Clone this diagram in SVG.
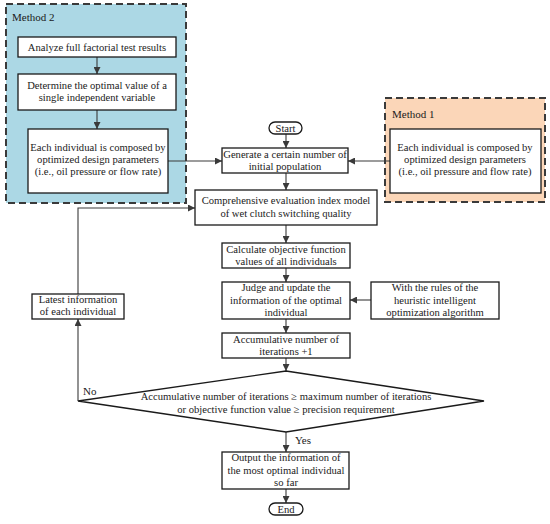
<svg xmlns="http://www.w3.org/2000/svg" width="550" height="524" viewBox="0 0 550 524" font-family="'Liberation Serif', 'Times New Roman', Times, serif">
<defs>
<marker id="ah" viewBox="0 0 10 10" refX="10" refY="5" markerWidth="7" markerHeight="7" markerUnits="userSpaceOnUse" orient="auto">
<path d="M0,0 L10,5 L0,10 z" fill="#3a3a3a"/>
</marker>
<style>
text{font-family:'Liberation Serif','Times New Roman',Times,serif;font-size:10.6px;fill:#1a1a1a;text-anchor:middle}
.lbl{text-anchor:start;font-size:11px}
.box{fill:#fff;stroke:#1a1a1a;stroke-width:1.3}
.grp{stroke:#3a3a3a;stroke-width:2;stroke-dasharray:7,4}
.con{fill:none;stroke:#3a3a3a;stroke-width:1.1;marker-end:url(#ah)}
</style>
</defs>
<rect width="550" height="524" fill="#fff"/>

<g id="method2">
<rect class="grp" x="6" y="4" width="180" height="199" fill="#acd8e5"/>
<text class="lbl" x="12" y="21" font-family="Liberation Serif">Method 2</text>
</g>
<g id="method1">
<rect class="grp" x="385" y="98" width="160" height="104" fill="#fbd6b8"/>
<text class="lbl" x="392" y="118" font-family="Liberation Serif">Method 1</text>
</g>

<g id="connectors">
<line class="con" x1="97" y1="57" x2="97" y2="74"/>
<line class="con" x1="97" y1="110" x2="97" y2="129"/>
<line class="con" x1="168" y1="161" x2="222" y2="161"/>
<line class="con" x1="390" y1="161" x2="348" y2="161"/>
<line class="con" x1="286" y1="134" x2="286" y2="148"/>
<line class="con" x1="286" y1="173" x2="286" y2="190"/>
<line class="con" x1="286" y1="225" x2="286" y2="243"/>
<line class="con" x1="286" y1="268" x2="286" y2="282"/>
<line class="con" x1="371" y1="300" x2="350" y2="300"/>
<line class="con" x1="286" y1="319" x2="286" y2="333"/>
<line class="con" x1="286" y1="358" x2="286" y2="371"/>
<line class="con" x1="78" y1="401" x2="78" y2="319"/>
<polyline class="con" points="78,294 78,208 195,208"/>
<line class="con" x1="286" y1="432" x2="286" y2="452"/>
<line class="con" x1="286" y1="489" x2="286" y2="503"/>
<text class="lbl" x="83" y="395">No</text>
<text class="lbl" x="295" y="444">Yes</text>
</g>

<g id="n_analyze">
<rect class="box" x="18" y="37" width="158" height="20"/>
<text x="97" y="51">Analyze full factorial test results</text>
</g>
<g id="n_determine">
<rect class="box" x="18" y="74" width="158" height="36"/>
<text x="97" y="89">Determine the optimal value of a</text>
<text x="97" y="101">single independent variable</text>
</g>
<g id="n_m2individual">
<rect class="box" x="28" y="129" width="140" height="64"/>
<text x="98" y="151">Each individual is composed by</text>
<text x="98" y="163">optimized design parameters</text>
<text x="98" y="175">(i.e., oil pressure or flow rate)</text>
</g>
<g id="n_m1individual">
<rect class="box" x="390" y="129" width="151" height="64"/>
<text x="465" y="151">Each individual is composed by</text>
<text x="465" y="163">optimized design parameters</text>
<text x="465" y="175">(i.e., oil pressure and flow rate)</text>
</g>
<g id="n_start">
<rect class="box" x="269" y="122" width="33" height="12" rx="6"/>
<text x="285.5" y="131.5">Start</text>
</g>
<g id="n_generate">
<rect class="box" x="222" y="148" width="126" height="25"/>
<text x="285" y="158">Generate a certain number of</text>
<text x="285" y="170">initial population</text>
</g>
<g id="n_comprehensive">
<rect class="box" x="195" y="190" width="182" height="35"/>
<text x="286" y="204">Comprehensive evaluation index model</text>
<text x="286" y="217">of wet clutch switching quality</text>
</g>
<g id="n_calculate">
<rect class="box" x="222" y="243" width="128" height="25"/>
<text x="286" y="253">Calculate objective function</text>
<text x="286" y="265">values of all individuals</text>
</g>
<g id="n_judge">
<rect class="box" x="222" y="282" width="128" height="37"/>
<text x="286" y="291">Judge and update the</text>
<text x="286" y="304">information of the optimal</text>
<text x="286" y="316">individual</text>
</g>
<g id="n_rules">
<rect class="box" x="371" y="282" width="128" height="37"/>
<text x="435" y="291">With the rules of the</text>
<text x="435" y="304">heuristic intelligent</text>
<text x="435" y="316">optimization algorithm</text>
</g>
<g id="n_latest">
<rect class="box" x="32" y="294" width="92" height="25"/>
<text x="78" y="303">Latest information</text>
<text x="78" y="315">of each individual</text>
</g>
<g id="n_accum">
<rect class="box" x="222" y="333" width="128" height="25"/>
<text x="286" y="343">Accumulative number of</text>
<text x="286" y="355">iterations +1</text>
</g>
<g id="n_decision">
<polygon class="box" points="286,371 484,401 286,432 78,401"/>
<text x="286" y="400">Accumulative number of iterations ≥ maximum number of iterations</text>
<text x="286" y="413">or objective function value ≥  precision requirement</text>
</g>
<g id="n_output">
<rect class="box" x="222" y="452" width="127" height="37"/>
<text x="286" y="461">Output the information of</text>
<text x="286" y="474">the most optimal individual</text>
<text x="286" y="486">so far</text>
</g>
<g id="n_end">
<rect class="box" x="269" y="503" width="34" height="12" rx="6"/>
<text x="286" y="512.5">End</text>
</g>
</svg>
